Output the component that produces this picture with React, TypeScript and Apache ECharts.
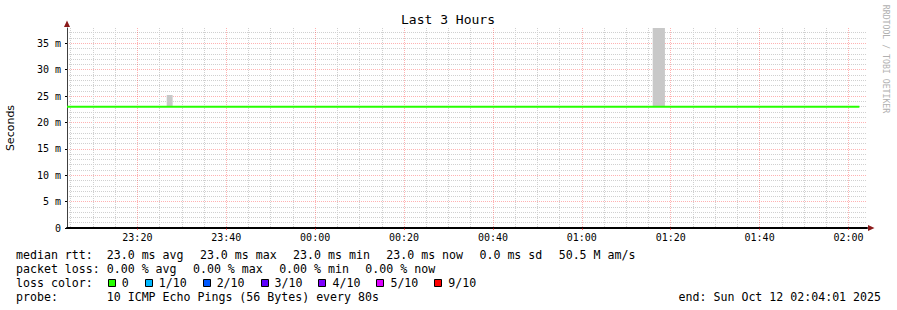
import React, { useEffect, useRef } from 'react';
import * as echarts from 'echarts';

// ---- data ----
const timeOrigin = '2025-10-11 23:00:00';
const axisStart = '2025-10-11 23:04:10';
const axisEnd = '2025-10-12 02:04:10';
const xMajorMinutes = 20;
const xMinorSplit = 4;
const yMax = 37.9;
const yTickStep = 5;
const yMinorSplit = 5;

const medianTimes = ['2025-10-11 23:04:10', '2025-10-12 02:02:27'];
const medianValues = [23.0, 23.0];

const smokeStart = ['2025-10-11 23:26:36', '2025-10-12 01:15:57'];
const smokeEnd = ['2025-10-11 23:27:56', '2025-10-12 01:18:42'];
const smokeLow = [23.0, 23.0];
const smokeHigh = [25.2, 37.9];

const titleText = 'Last 3 Hours';
const yAxisName = 'Seconds';
const watermarkText = 'RRDTOOL / TOBI OETIKER';
const rttHeader = 'median rtt:';
const rttItems = ['23.0 ms avg', '23.0 ms max', '23.0 ms min', '23.0 ms now', '0.0 ms sd', '50.5 M am/s'];
const lossHeaderStat = 'packet loss:';
const lossItems = ['0.00 % avg', '0.00 % max', '0.00 % min', '0.00 % now'];
const lossHeader = 'loss color:';
const lossLabels = ['0', '1/10', '2/10', '3/10', '4/10', '5/10', '9/10'];
const lossColors = ['#26ff00', '#00b8ff', '#0059ff', '#5e00ff', '#7e00ff', '#dd00ff', '#ff0000'];
const probeHeader = 'probe:';
const probeText = '10 ICMP Echo Pings (56 Bytes) every 80s';
const endLine = 'end: Sun Oct 12 02:04:01 2025';

// ---- helpers ----
function toMs(s: string): number {
  const [d, t] = s.split(' ');
  const [Y, M, D] = d.split('-').map(Number);
  const [h, m, sec] = t.split(':').map(Number);
  return new Date(Y, M - 1, D, h, m, sec).getTime();
}
const ORIGIN_MS = toMs(timeOrigin);
const toMin = (s: string) => (toMs(s) - ORIGIN_MS) / 60000;
const pad = (n: number) => (n < 10 ? '0' + n : '' + n);
const fmtMin = (v: number) => {
  const d = new Date(ORIGIN_MS + v * 60000);
  return pad(d.getHours()) + ':' + pad(d.getMinutes());
};

const MONO = 'DejaVu Sans Mono';
const LEG_FS = 11.6;
const CHAR_W = 6.98;
const ITEM_GAP = 16.4;

export default function App() {
  const ref = useRef<HTMLDivElement>(null);

  useEffect(() => {
    document.body.style.margin = '0';
    if (!ref.current) return;
    const chart = echarts.init(ref.current, undefined, { renderer: 'svg' });

    const xMin = toMin(axisStart);
    const xMax = toMin(axisEnd);

    const smokeData = smokeStart.map((s, i) => [toMin(s), toMin(smokeEnd[i]), smokeLow[i], smokeHigh[i]]);
    const medianData = medianTimes.map((t, i) => [toMin(t), medianValues[i]]);

    const minorGrid = { color: '#d0d0d0', type: [1, 1] as any, width: 1 };
    const majorGrid = { color: 'rgba(255,0,0,0.3)', type: [1, 1] as any, width: 1 };

    const graphics: any[] = [];
    const txt = (x: number, y: number, text: string, extra: any = {}) =>
      graphics.push({
        type: 'text', x, y,
        style: { text, fontFamily: MONO, fontSize: LEG_FS, fill: '#000', verticalAlign: 'middle', ...extra },
      });

    graphics.push({
      type: 'text', x: 448, y: 19.5,
      style: { text: titleText, fontFamily: MONO, fontSize: 13, fill: '#000', align: 'center', verticalAlign: 'middle' },
    });
    graphics.push({
      type: 'text', x: 886, y: 59, rotation: -Math.PI / 2,
      style: { text: watermarkText, fontFamily: MONO, fontSize: 8.2, fill: '#b0b0b0', align: 'center', verticalAlign: 'middle' },
    });
    // axis arrows
    graphics.push({ type: 'polygon', shape: { points: [[64, 27], [70, 27], [67, 20.5]] }, style: { fill: '#8b1a1a' } });
    graphics.push({ type: 'polygon', shape: { points: [[868, 225], [868, 231], [874.5, 228]] }, style: { fill: '#8b1a1a' } });

    const rowY = [254.8, 268.6, 282.6, 296.6];
    const col0 = 16;
    const col1 = 16 + 13 * CHAR_W;

    const placeItems = (items: string[], y: number) => {
      let x = col1;
      items.forEach((it) => {
        txt(x, y, it);
        x += it.length * CHAR_W + ITEM_GAP;
      });
    };

    txt(col0, rowY[0], rttHeader);
    placeItems(rttItems, rowY[0]);
    txt(col0, rowY[1], lossHeaderStat);
    placeItems(lossItems, rowY[1]);

    txt(col0, rowY[2], lossHeader);
    let sx = col1 + 1;
    lossLabels.forEach((lab, i) => {
      graphics.push({
        type: 'rect', shape: { x: Math.round(sx) + 0.5, y: 279.5, width: 7, height: 7 },
        style: { fill: lossColors[i], stroke: '#000', lineWidth: 1 },
      });
      txt(sx + 14, rowY[2], lab);
      sx += 30 + CHAR_W * lab.length;
    });

    txt(col0, rowY[3], probeHeader);
    txt(col1, rowY[3], probeText);
    txt(881, rowY[3], endLine, { align: 'right' });

    chart.setOption({
      animation: false,
      backgroundColor: '#ffffff',
      grid: { left: 67, right: 30, top: 28, bottom: 82, containLabel: false, outerBoundsMode: 'none' } as any,
      xAxis: {
        type: 'value', position: 'bottom', min: xMin, max: xMax,
        minInterval: xMajorMinutes, maxInterval: xMajorMinutes,
        axisLine: { show: true, onZero: false, lineStyle: { color: '#000', width: 2 } },
        axisTick: { show: true, length: 2, lineStyle: { color: 'rgba(255,0,0,0.5)' } },
        axisLabel: {
          show: true, showMinLabel: false, showMaxLabel: false, margin: 4,
          fontFamily: MONO, fontSize: 10, color: '#000',
          formatter: (v: number) => fmtMin(v),
        },
        splitLine: { show: true, showMinLine: false, showMaxLine: false, lineStyle: majorGrid },
        minorTick: { show: false, splitNumber: xMinorSplit },
        minorSplitLine: { show: true, lineStyle: minorGrid },
      },
      yAxis: {
        type: 'value', min: 0, max: yMax, interval: yTickStep,
        name: yAxisName, nameLocation: 'middle', nameGap: 51, nameRotate: 90,
        nameTextStyle: { fontFamily: 'DejaVu Sans', fontSize: 11, color: '#000' },
        axisLine: { show: true, lineStyle: { color: '#404040', width: 1 } },
        axisTick: { show: true, length: 2, lineStyle: { color: '#000000', width: 1 } },
        axisLabel: {
          showMaxLabel: false, margin: 6, fontFamily: MONO, fontSize: 10, color: '#000',
          formatter: (v: number) => (v === 0 ? '0' : v + ' m'),
        },
        splitLine: { show: true, showMinLine: false, showMaxLine: false, lineStyle: majorGrid },
        minorTick: { show: false, splitNumber: yMinorSplit },
        minorSplitLine: { show: true, lineStyle: minorGrid },
      },
      series: [
        {
          type: 'custom',
          data: smokeData,
          encode: { x: [0, 1], y: [2, 3] },
          renderItem: (params: any, api: any) => {
            const p0 = api.coord([api.value(0), api.value(3)]);
            const p1 = api.coord([api.value(1), api.value(2)]);
            return {
              type: 'rect',
              shape: { x: p0[0], y: p0[1], width: p1[0] - p0[0], height: p1[1] - p0[1] },
              style: { fill: '#c8c8c8' },
            };
          },
          z: 2,
        },
        {
          type: 'line',
          data: medianData, showSymbol: false, symbol: 'none',
          lineStyle: { color: '#26ff00', width: 2 },
          z: 3,
        },
      ],
      graphic: graphics,
    });

    return () => chart.dispose();
  }, []);

  return <div ref={ref} style={{ width: 897, height: 310 }} />;
}
